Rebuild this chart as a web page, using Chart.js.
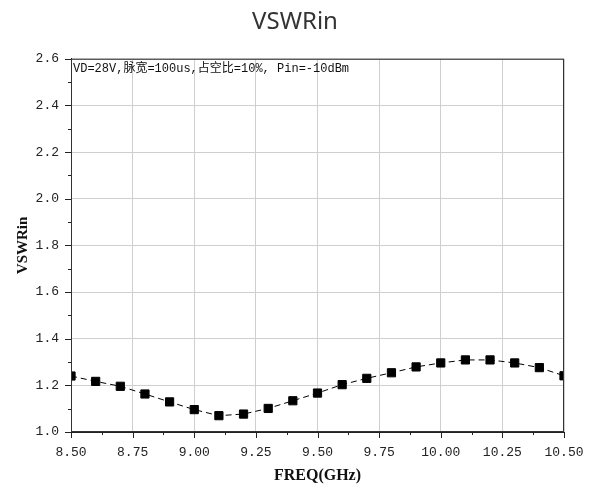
<!DOCTYPE html>
<html>
<head>
<meta charset="utf-8">
<script src="https://cdn.jsdelivr.net/npm/chart.js@4.4.1/dist/chart.umd.min.js"></script>
<style>
  html, body { margin: 0; padding: 0; background: #fff; }
  #wrap { width: 590px; height: 487px; }
</style>
</head>
<body>
<div id="wrap"><canvas id="myChart" width="590" height="487"></canvas></div>
<script>
const freq = [8.5, 8.6, 8.7, 8.8, 8.9, 9.0, 9.1, 9.2, 9.3, 9.4, 9.5, 9.6, 9.7, 9.8, 9.9, 10.0, 10.1, 10.2, 10.3, 10.4, 10.5];
const vswrIn = [1.240, 1.217, 1.196, 1.163, 1.129, 1.096, 1.070, 1.077, 1.101, 1.134, 1.167, 1.203, 1.230, 1.254, 1.279, 1.296, 1.309, 1.309, 1.296, 1.276, 1.241];
const xTicks = [8.5, 8.75, 9.0, 9.25, 9.5, 9.75, 10.0, 10.25, 10.5];
const yTicks = [1.0, 1.2, 1.4, 1.6, 1.8, 2.0, 2.2, 2.4, 2.6];
const note = 'VD=28V,脉宽=100us,占空比=10%, Pin=-10dBm';

const mono = '"Liberation Mono", "Noto Sans CJK SC", monospace';
const serif = '"Liberation Serif", "DejaVu Serif", "Noto Sans CJK SC", serif';

// frame, minor ticks and the note in the top-left corner
const framePlugin = {
    id: 'framePlugin',
    afterDraw(chart) {
        const ctx = chart.ctx;
        const a = chart.chartArea;
        const xs = chart.scales.x;
        const ys = chart.scales.y;
        ctx.save();
        ctx.strokeStyle = '#333';
        ctx.lineWidth = 1;
        ctx.strokeRect(a.left + 0.5, a.top + 0.5, a.right - a.left - 1, a.bottom - a.top - 1);

        ctx.strokeStyle = '#222';
        ctx.beginPath();
        for (let v = 8.5; v <= 10.5001; v += 0.125) {
            const px = Math.round(xs.getPixelForValue(v)) + 0.5;
            const major = Math.abs(v * 4 - Math.round(v * 4)) < 1e-6;
            ctx.moveTo(px, a.bottom);
            ctx.lineTo(px, a.bottom + (major ? 6 : 3));
        }
        for (let v = 1.0; v <= 2.6001; v += 0.1) {
            const py = Math.round(ys.getPixelForValue(v)) + 0.5;
            const major = Math.abs(v * 5 - Math.round(v * 5)) < 1e-6;
            ctx.moveTo(a.left, py);
            ctx.lineTo(a.left - (major ? 6 : 3), py);
        }
        ctx.stroke();

        ctx.fillStyle = '#111';
        ctx.font = '12px ' + mono;
        ctx.textBaseline = 'middle';
        ctx.textAlign = 'left';
        ctx.fillText(note, a.left + 2, a.top + 10);
        ctx.restore();
    }
};

document.addEventListener('DOMContentLoaded', function () {
    const ctx = document.getElementById('myChart').getContext('2d');
    new Chart(ctx, {
        type: 'line',
        data: {
            datasets: [{
                label: 'VSWRin',
                data: freq.map((f, i) => ({ x: f, y: vswrIn[i] })),
                borderColor: '#000',
                backgroundColor: '#000',
                borderWidth: 1,
                borderDash: [6, 4],
                pointStyle: 'rect',
                pointRadius: 5.8,
                pointHoverRadius: 5.8,
                tension: 0
            }]
        },
        options: {
            responsive: false,
            animation: false,
            layout: { padding: 0 },
            scales: {
                x: {
                    type: 'linear',
                    min: 8.5,
                    max: 10.5,
                    afterBuildTicks: scale => { scale.ticks = xTicks.map(v => ({ value: v })); },
                    afterFit: scale => {
                        scale.height = 55;
                        scale.paddingLeft = 0;
                        scale.paddingRight = 26;
                    },
                    grid: { color: '#cfcfcf', drawTicks: false },
                    border: { color: '#222' },
                    ticks: {
                        padding: 13,
                        color: '#222',
                        font: { family: mono, size: 13 },
                        maxRotation: 0,
                        callback: v => v.toFixed(2)
                    },
                    title: {
                        display: true,
                        text: 'FREQ(GHz)',
                        color: '#111',
                        font: { family: serif, size: 16, weight: 'bold' },
                        padding: { top: 2, bottom: 2 }
                    }
                },
                y: {
                    min: 1.0,
                    max: 2.6,
                    afterBuildTicks: scale => { scale.ticks = yTicks.map(v => ({ value: v })); },
                    afterFit: scale => {
                        scale.width = 71;
                        scale.paddingTop = 0;
                        scale.paddingBottom = 0;
                    },
                    grid: { color: '#cfcfcf', drawTicks: false },
                    border: { color: '#222' },
                    ticks: {
                        padding: 12,
                        color: '#222',
                        font: { family: mono, size: 13 },
                        callback: v => v.toFixed(1)
                    },
                    title: {
                        display: true,
                        text: 'VSWRin',
                        color: '#111',
                        font: { family: serif, size: 15, weight: 'bold' },
                        padding: { top: 14, bottom: 0 }
                    }
                }
            },
            plugins: {
                legend: { display: false },
                tooltip: { enabled: false },
                title: {
                    display: true,
                    text: 'VSWRin',
                    color: '#333',
                    font: { family: '"Noto Sans", sans-serif', size: 24, weight: 'normal' },
                    padding: { top: 8, bottom: 22 }
                }
            }
        },
        plugins: [framePlugin]
    });
});
</script>
</body>
</html>
